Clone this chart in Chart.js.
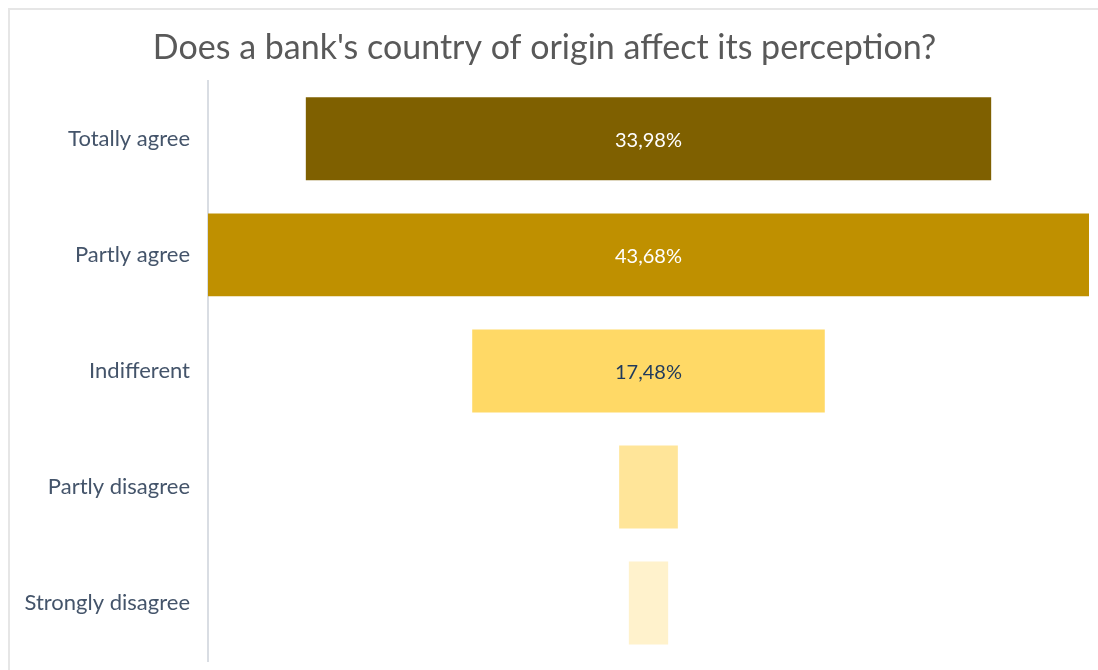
<!DOCTYPE html>
<html>
<head>
<meta charset="utf-8">
<script src="https://cdn.jsdelivr.net/npm/chart.js@4"></script>
<style>
    body { margin: 0; background: #fff; }
    #wrap { position: relative; width: 1098px; height: 670px; }
    #frame {
        position: absolute; left: 8px; top: 8px; right: 0; bottom: 0;
        border-top: 2px solid #e6e6e6; border-left: 2px solid #e6e6e6;
    }
    #grafico { position: absolute; left: 0; top: 0; }
</style>
</head>
<body>
<div id="wrap">
    <div id="frame"></div>
    <canvas id="grafico" width="1098" height="670"></canvas>
</div>
<script>
const categorias = ['Totally agree', 'Partly agree', 'Indifferent', 'Partly disagree', 'Strongly disagree'];
const percentuais = [33.98, 43.68, 17.48, 2.91, 1.95];
const cores = ['#7f6000', '#bf9000', '#ffd966', '#ffe599', '#fff2cc'];
const coresTexto = ['#ffffff', '#ffffff', '#1f3a5c', '#1f3a5c', '#1f3a5c'];

// funil: cada barra centrada no zero
const maior = Math.max(...percentuais);
const intervalos = percentuais.map(v => [-v / 2, v / 2]);

// rótulos de valor no meio das barras (só nas que cabem)
const rotulosFunil = {
    id: 'rotulosFunil',
    afterDatasetsDraw(chart) {
        const ctx = chart.ctx;
        const meta = chart.getDatasetMeta(0);
        ctx.save();
        ctx.font = '20px Lato';
        ctx.textAlign = 'center';
        ctx.textBaseline = 'middle';
        meta.data.forEach((barra, i) => {
            if (percentuais[i] < 10) return;
            const cx = (barra.x + barra.base) / 2;
            ctx.fillStyle = coresTexto[i];
            ctx.fillText(percentuais[i].toFixed(2).replace('.', ',') + '%', cx, barra.y + 2);
        });
        ctx.restore();
    }
};

const config = {
    type: 'bar',
    data: {
        labels: categorias,
        datasets: [{
            data: intervalos,
            backgroundColor: cores,
            borderWidth: 0,
            categoryPercentage: 1,
            barPercentage: 0.715
        }]
    },
    options: {
        indexAxis: 'y',
        responsive: false,
        animation: false,
        layout: { padding: { top: 1, right: 9, bottom: 9, left: 0 } },
        scales: {
            x: {
                display: false,
                min: -maior / 2,
                max: maior / 2
            },
            y: {
                afterFit: (escala) => {
                    escala.width = 208;
                    escala.paddingTop = 0;
                    escala.paddingBottom = 0;
                },
                grid: { display: false, drawTicks: false },
                border: { display: true, color: '#d9dde3', width: 2 },
                ticks: {
                    padding: 18,
                    color: '#44546a',
                    font: { family: 'Lato', size: 22 }
                }
            }
        },
        plugins: {
            legend: { display: false },
            tooltip: { enabled: false },
            title: {
                display: true,
                text: "Does a bank's country of origin affect its perception?",
                color: '#595959',
                font: { family: 'Lato', size: 34, weight: 'normal' },
                padding: { top: 27, bottom: 12 }
            }
        }
    },
    plugins: [rotulosFunil]
};

new Chart(document.getElementById('grafico'), config);
</script>
</body>
</html>
